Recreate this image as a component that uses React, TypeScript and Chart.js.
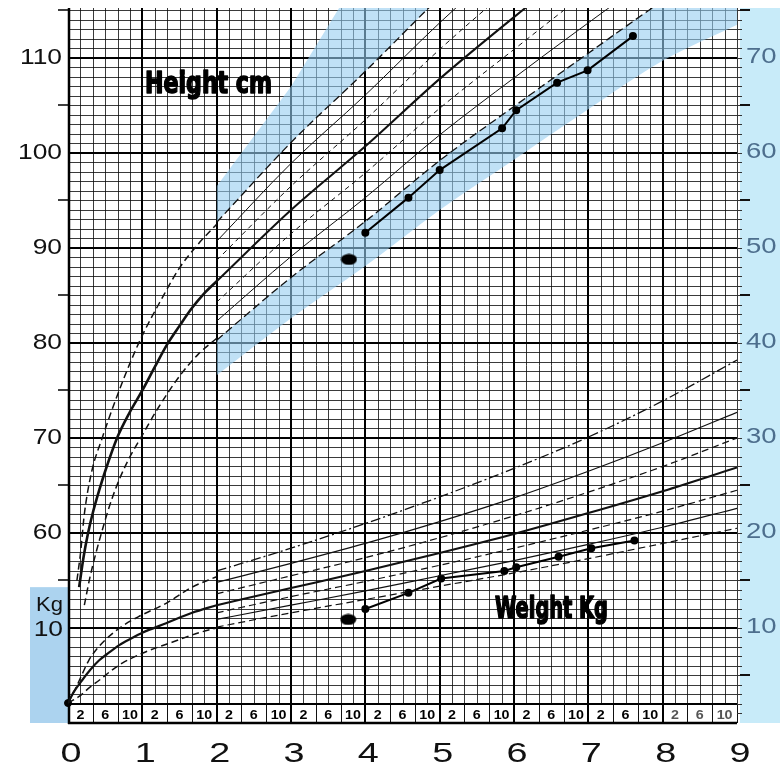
import { useEffect, useRef } from "react";
import { Chart, registerables } from "chart.js";

Chart.register(...registerables);

// ---------- Height (cm), birth to 2 years ----------
const hInfMeanAges = [0.15, 0.21, 0.27, 0.33, 0.42, 0.5, 0.66, 0.83, 1.0, 1.17, 1.33, 1.5, 1.67, 1.83, 2.0];
const hInfMean = [54.3, 57.5, 60.0, 62.0, 64.5, 66.5, 70.0, 72.7, 75.0, 77.5, 79.8, 81.8, 83.7, 85.2, 86.5];
const hInfUpAges = [0.12, 0.17, 0.22, 0.32, 0.46, 0.65, 0.83, 1.0, 1.25, 1.5, 1.75, 2.0];
const hInfUp = [55.0, 58.0, 62.0, 66.5, 70.0, 74.2, 77.8, 80.8, 84.5, 87.9, 90.4, 92.5];
const hInfLowAges = [0.22, 0.3, 0.45, 0.6, 0.78, 1.0, 1.2, 1.5, 1.75, 2.0];
const hInfLow = [52.4, 55.5, 60.0, 63.8, 67.2, 70.3, 73.0, 76.5, 78.8, 80.5];

// ---------- Height (cm), 2 to 9 years, percentiles ----------
const hAges = [2, 3, 4, 5, 6, 7, 8, 9];
const hP3 = [80.3, 86.9, 92.8, 99.2, 104.9, 110.5, 116.0, 120.9];
const hP10 = [82.3, 89.1, 95.3, 101.9, 107.9, 113.7, 119.3, 124.4];
const hP25 = [84.3, 91.5, 97.9, 104.7, 110.9, 117.0, 122.7, 128.0];
const hP50 = [86.5, 94.0, 100.7, 107.8, 114.3, 120.5, 126.5, 132.0];
const hP75 = [88.7, 96.5, 103.5, 110.9, 117.7, 124.1, 130.3, 136.0];
const hP90 = [90.7, 98.9, 106.1, 113.7, 120.7, 127.3, 133.7, 139.6];
const hP97 = [92.7, 101.1, 108.6, 116.4, 123.7, 130.4, 137.0, 143.1];
const hLowBandBottom = [76.6, 82.6, 88.1, 94.0, 99.3, 104.6, 109.7, 113.5];
const hUpBandAges = [2, 3, 3.65, 5];
const hUpBandTop = [96.5, 107.0, 115.3, 129.0];

// ---------- Weight (kg), birth to 2 years ----------
const wInfMeanAges = [0, 0.08, 0.19, 0.3, 0.42, 0.55, 0.69, 0.85, 1.0, 1.32, 1.67, 2.0];
const wInfMean = [2.1, 3.3, 4.5, 5.6, 6.6, 7.4, 8.2, 8.9, 9.5, 10.5, 11.6, 12.4];
const wInfUpAges = [0, 0.1, 0.2, 0.28, 0.4, 0.55, 0.75, 0.95, 1.32, 1.67, 2.0];
const wInfUp = [2.1, 3.6, 5.3, 6.6, 7.9, 9.1, 10.3, 11.2, 12.6, 14.3, 15.4];
const wInfLowAges = [0, 0.15, 0.3, 0.42, 0.58, 0.73, 1.05, 1.4, 1.76, 2.0];
const wInfLow = [2.1, 2.8, 3.8, 4.5, 5.5, 6.3, 7.5, 8.5, 9.5, 10.0];

// ---------- Weight (kg), 2 to 9 years, percentiles ----------
const wAges = [2, 3, 4, 5, 6, 7, 8, 9];
const wP3 = [10.1, 11.6, 13.0, 14.4, 15.8, 17.3, 18.9, 20.5];
const wP10 = [10.9, 12.4, 13.9, 15.5, 17.1, 18.8, 20.6, 22.6];
const wP25 = [11.6, 13.3, 14.9, 16.6, 18.4, 20.3, 22.3, 24.5];
const wP50 = [12.4, 14.2, 16.0, 17.9, 19.9, 22.1, 24.4, 26.9];
const wP75 = [13.6, 15.5, 17.4, 19.5, 21.8, 24.3, 27.0, 30.0];
const wP90 = [14.8, 16.8, 18.9, 21.2, 23.7, 26.5, 29.5, 32.7];
const wP97 = [16.0, 18.4, 21.0, 23.8, 26.8, 30.1, 33.9, 38.2];

// ---------- Patient ----------
const patHAges = [4.0, 4.58, 5.0, 5.84, 6.03, 6.58, 6.99, 7.6];
const patH = [91.6, 95.3, 98.2, 102.6, 104.5, 107.4, 108.7, 112.3];
const patWAges = [4.0, 4.58, 5.02, 5.87, 6.03, 6.6, 7.04, 7.62];
const patW = [12.0, 13.7, 15.2, 16.0, 16.4, 17.5, 18.4, 19.2];
const markHAges = [3.78];
const markH = [88.8];
const markWAges = [3.77];
const markW = [10.9];
const birthAges = [0];
const birthW = [2.1];

// ---------- Labels ----------
const yearLabels = ["0", "1", "2", "3", "4", "5", "6", "7", "8", "9"];
const monthLabels = ["2", "6", "10"];
const monthPositions = [2, 6, 10];
const heightTicks = [60, 70, 80, 90, 100, 110];
const leftWeightTicks = [10];
const rightWeightTicks = [10, 20, 30, 40, 50, 60, 70];

const pts = (xs: number[], ys: number[]) => xs.map((x, i) => ({ x, y: ys[i] }));

function line(data: any, axis: string, opts: any = {}) {
  return {
    type: "line",
    data,
    yAxisID: axis,
    borderColor: "#111",
    borderWidth: 1,
    pointRadius: 0,
    fill: false,
    cubicInterpolationMode: "monotone",
    ...opts,
  };
}

function drawText(ctx: CanvasRenderingContext2D, text: string, x: number, y: number, font: string, align: CanvasTextAlign, baseline: CanvasTextBaseline, sx: number, color: string) {
  ctx.save();
  ctx.font = font;
  ctx.fillStyle = color;
  ctx.textAlign = align;
  ctx.textBaseline = baseline;
  ctx.translate(x, y);
  ctx.scale(sx, 1);
  ctx.fillText(text, 0, 0);
  ctx.restore();
}

function drawFitText(ctx: CanvasRenderingContext2D, text: string, x: number, y: number, font: string, width: number) {
  ctx.save();
  ctx.font = font;
  ctx.fillStyle = "#000";
  ctx.strokeStyle = "#000";
  ctx.lineWidth = 1.6;
  ctx.lineJoin = "round";
  ctx.textAlign = "left";
  ctx.textBaseline = "alphabetic";
  const w = ctx.measureText(text).width;
  ctx.translate(x, y);
  ctx.scale(width / w, 1);
  ctx.fillText(text, 0, 0);
  ctx.strokeText(text, 0, 0);
  ctx.restore();
}

const paperPlugin = {
  id: "paper",
  beforeDraw(chart: any) {
    const { ctx, chartArea: a, scales } = chart;
    const x = scales.x;
    const yW = scales.yW;
    ctx.save();
    ctx.fillStyle = "#fff";
    ctx.fillRect(0, 0, chart.width, chart.height);
    // blue label panels
    const kgTop = yW.getPixelForValue(14.3);
    ctx.fillStyle = "#acd3ef";
    ctx.fillRect(30, kgTop, a.left - 30, a.bottom - kgTop);
    ctx.fillStyle = "#c8ebf9";
    ctx.fillRect(a.right + 3, a.top, chart.width - a.right - 3, a.bottom - a.top);

    // minor grid
    ctx.strokeStyle = "rgba(15,15,15,0.82)";
    ctx.lineWidth = 1;
    ctx.beginPath();
    for (let k = 1; k < 76; k++) {
      if (k % 10 === 0) continue;
      const py = Math.round(yW.getPixelForValue(k)) + 0.5;
      if (py < a.top) break;
      ctx.moveTo(a.left, py);
      ctx.lineTo(a.right, py);
    }
    for (let m = 1; m <= 54; m++) {
      if (m % 6 === 0 && m !== 54) continue;
      const px = Math.round(x.getPixelForValue(m / 6)) + 0.5;
      ctx.moveTo(px, a.top);
      ctx.lineTo(px, a.bottom);
    }
    ctx.stroke();

    // month strip at the bottom
    const stripTop = yW.getPixelForValue(2);
    ctx.fillStyle = "#fff";
    ctx.fillRect(a.left, stripTop, a.right - a.left, a.bottom - stripTop);
    ctx.strokeStyle = "#111";
    ctx.lineWidth = 1;
    ctx.beginPath();
    for (let yr = 0; yr < 9; yr++) {
      for (const mo of [4, 8]) {
        const px = Math.round(x.getPixelForValue(yr + mo / 12)) + 0.5;
        ctx.moveTo(px, stripTop);
        ctx.lineTo(px, a.bottom);
      }
    }
    const p9 = Math.round(x.getPixelForValue(9)) + 0.5;
    ctx.moveTo(p9, stripTop);
    ctx.lineTo(p9, a.bottom);
    ctx.stroke();
    for (let yr = 0; yr < 9; yr++) {
      monthLabels.forEach((lab, i) => {
        const px = x.getPixelForValue(yr + monthPositions[i] / 12);
        drawText(ctx, lab, px, a.bottom - 4, "bold 13px 'Liberation Sans', Arial, sans-serif", "center", "alphabetic", 1.1, yr === 8 ? "#555" : "#000");
      });
    }

    // major grid
    ctx.strokeStyle = "#000";
    ctx.lineWidth = 2;
    ctx.beginPath();
    for (let k = 10; k < 76; k += 10) {
      const py = Math.round(yW.getPixelForValue(k));
      ctx.moveTo(a.left, py);
      ctx.lineTo(a.right, py);
    }
    for (let yr = 1; yr <= 8; yr++) {
      const px = Math.round(x.getPixelForValue(yr));
      ctx.moveTo(px, a.top);
      ctx.lineTo(px, a.bottom);
    }
    ctx.moveTo(a.left, stripTop);
    ctx.lineTo(a.right, stripTop);
    ctx.stroke();
    ctx.lineWidth = 2.5;
    ctx.beginPath();
    ctx.moveTo(a.left + 1, a.top);
    ctx.lineTo(a.left + 1, a.bottom + 1);
    ctx.moveTo(a.left, a.bottom);
    ctx.lineTo(a.right, a.bottom);
    ctx.stroke();
    ctx.restore();
  },
  afterDraw(chart: any) {
    const { ctx, chartArea: a, scales } = chart;
    const x = scales.x;
    const yW = scales.yW;
    const yH = scales.yH;
    ctx.save();
    const numFont = "22px 'Liberation Sans', Arial, sans-serif";
    heightTicks.forEach((v) => {
      drawText(ctx, String(v), 62, yH.getPixelForValue(v), numFont, "right", "middle", 1.2, "#111");
    });
    leftWeightTicks.forEach((v) => {
      drawText(ctx, String(v), 63, yW.getPixelForValue(v) + 2, numFont, "right", "middle", 1.2, "#111");
    });
    drawText(ctx, "Kg", 63, yW.getPixelForValue(12.4), "20px 'Liberation Sans', Arial, sans-serif", "right", "middle", 1.1, "#111");
    // left ticks
    ctx.strokeStyle = "#000";
    ctx.lineWidth = 1.5;
    ctx.beginPath();
    for (let v = 55; v <= 115; v += 10) {
      const py = Math.round(yH.getPixelForValue(v));
      ctx.moveTo(58, py);
      ctx.lineTo(a.left, py);
    }
    ctx.stroke();
    // right ticks
    ctx.strokeStyle = "#333";
    ctx.lineWidth = 1;
    ctx.beginPath();
    for (let k = 1; k < 76; k++) {
      const py = Math.round(yW.getPixelForValue(k)) + 0.5;
      if (py < a.top) break;
      ctx.moveTo(a.right, py);
      ctx.lineTo(a.right + 5, py);
    }
    ctx.stroke();
    ctx.strokeStyle = "#111";
    ctx.lineWidth = 2;
    ctx.beginPath();
    for (let k = 5; k < 76; k += 10) {
      const py = Math.round(yW.getPixelForValue(k));
      ctx.moveTo(a.right + 3, py);
      ctx.lineTo(a.right + 13, py);
    }
    ctx.stroke();
    rightWeightTicks.forEach((v) => {
      drawText(ctx, String(v), a.right + 9, yW.getPixelForValue(v) - 1, numFont, "left", "middle", 1.25, "#4d6e8d");
    });
    // x labels
    yearLabels.forEach((lab, i) => {
      drawText(ctx, lab, x.getPixelForValue(i) + 3, 762, "28px 'Liberation Sans', Arial, sans-serif", "center", "alphabetic", 1.35, "#111");
    });
    // titles
    const titleFont = "bold 31px 'DejaVu Sans Condensed', 'DejaVu Sans', sans-serif";
    drawFitText(ctx, "Height cm", 145, 93, titleFont, 127);
    drawFitText(ctx, "Weight Kg", 495, 618, titleFont, 113);
    ctx.restore();
  },
};

function makeOval() {
  const c = document.createElement("canvas");
  c.width = 17;
  c.height = 12;
  const g = c.getContext("2d")!;
  g.fillStyle = "#000";
  g.beginPath();
  g.ellipse(8.5, 6, 8, 5.5, 0, 0, Math.PI * 2);
  g.fill();
  return c;
}

export default function App() {
  const ref = useRef<HTMLCanvasElement | null>(null);
  useEffect(() => {
    document.body.style.margin = "0";
    const canvas = ref.current;
    if (!canvas) return;
    const oval = makeOval();
    const band = "rgba(150,205,240,0.6)";
    const datasets: any[] = [
      // 0: P97 height (lower edge of upper band)
      line(pts(hAges, hP97), "yH", { borderWidth: 1.3, borderDash: [8, 4] }),
      // 1: upper band (fills to P97)
      line(pts(hUpBandAges, hUpBandTop), "yH", { borderWidth: 0, borderColor: "rgba(0,0,0,0)", backgroundColor: band, fill: "-1", cubicInterpolationMode: "default", tension: 0 }),
      // 2: P3 height (upper edge of lower band)
      line(pts(hAges, hP3), "yH", { borderWidth: 1.3, borderDash: [8, 4] }),
      // 3: lower band (fills to P3)
      line(pts(hAges, hLowBandBottom), "yH", { borderWidth: 0, borderColor: "rgba(0,0,0,0)", backgroundColor: band, fill: "-1" }),
      line(pts(hAges, hP10), "yH", { borderWidth: 1 }),
      line(pts(hAges, hP25), "yH", { borderWidth: 1, borderDash: [5, 4] }),
      line(pts(hAges, hP50), "yH", { borderWidth: 2 }),
      line(pts(hAges, hP75), "yH", { borderWidth: 1, borderDash: [5, 4] }),
      line(pts(hAges, hP90), "yH", { borderWidth: 1 }),
      line(pts(hInfMeanAges, hInfMean), "yH", { borderWidth: 2.6 }),
      line(pts(hInfUpAges, hInfUp), "yH", { borderWidth: 1.5, borderDash: [7, 4] }),
      line(pts(hInfLowAges, hInfLow), "yH", { borderWidth: 1.5, borderDash: [7, 4] }),
      line(pts(wInfMeanAges, wInfMean), "yW", { borderWidth: 2.2 }),
      line(pts(wInfUpAges, wInfUp), "yW", { borderWidth: 1.5, borderDash: [7, 4] }),
      line(pts(wInfLowAges, wInfLow), "yW", { borderWidth: 1.5, borderDash: [7, 4] }),
      line(pts(wAges, wP3), "yW", { borderWidth: 1.2, borderDash: [7, 4] }),
      line(pts(wAges, wP10), "yW", { borderWidth: 1.2 }),
      line(pts(wAges, wP25), "yW", { borderWidth: 1.2, borderDash: [7, 4] }),
      line(pts(wAges, wP50), "yW", { borderWidth: 2 }),
      line(pts(wAges, wP75), "yW", { borderWidth: 1.2, borderDash: [7, 4] }),
      line(pts(wAges, wP90), "yW", { borderWidth: 1.2 }),
      line(pts(wAges, wP97), "yW", { borderWidth: 1.3, borderDash: [10, 3, 2, 3] }),
      // patient
      line(pts(patHAges, patH), "yH", { borderWidth: 2, borderColor: "#000", pointRadius: 3, pointBackgroundColor: "#000", pointBorderColor: "#000", cubicInterpolationMode: "default", tension: 0 }),
      line(pts(patWAges, patW), "yW", { borderWidth: 2, borderColor: "#000", pointRadius: 3, pointBackgroundColor: "#000", pointBorderColor: "#000", cubicInterpolationMode: "default", tension: 0 }),
      line(pts(markHAges, markH), "yH", { showLine: false, pointStyle: oval, pointRadius: 6 }),
      line(pts(markWAges, markW), "yW", { showLine: false, pointStyle: oval, pointRadius: 6 }),
      line(pts(birthAges, birthW), "yW", { showLine: false, pointRadius: 3.5, pointBackgroundColor: "#000", pointBorderColor: "#000", clip: false }),
    ];
    const chart = new Chart(canvas, {
      type: "line",
      data: { datasets },
      options: {
        animation: false,
        responsive: false,
        layout: { padding: { left: 68, right: 43, top: 8, bottom: 42 } },
        scales: {
          x: { type: "linear", min: 0, max: 9, display: false },
          yW: { type: "linear", min: 0, max: 75.26, display: false },
          yH: { type: "linear", min: 40, max: 115.26, display: false },
        },
        plugins: {
          legend: { display: false },
          tooltip: { enabled: false },
          filler: { propagate: false, drawTime: "beforeDatasetsDraw" },
        },
      } as any,
      plugins: [paperPlugin],
    } as any);
    return () => chart.destroy();
  }, []);
  return <canvas ref={ref} width={780} height={765} style={{ display: "block" }} />;
}
